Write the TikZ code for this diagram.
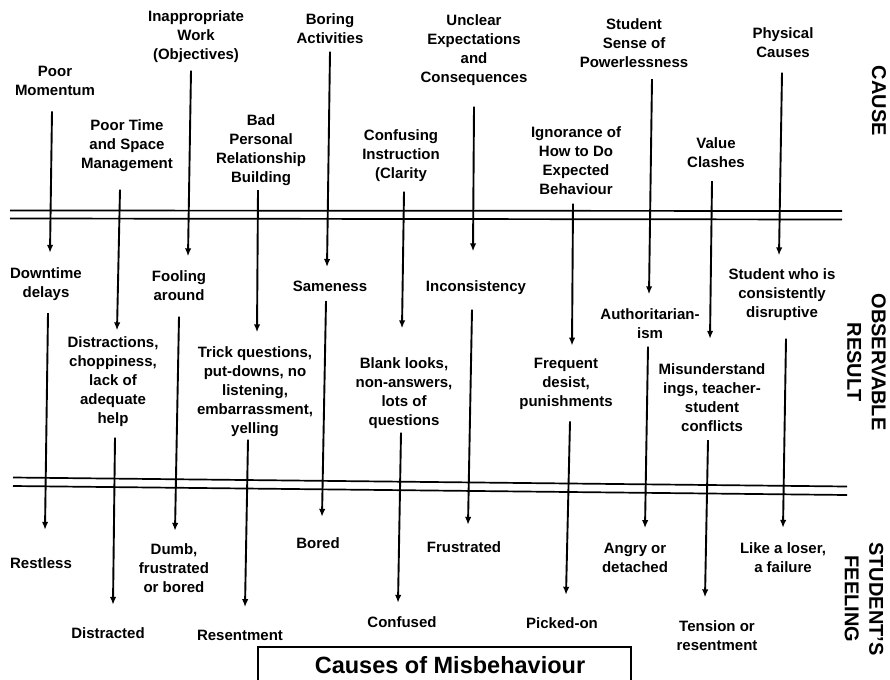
\documentclass[tikz,border=0pt]{standalone}
\usepackage{fontspec}
\setmainfont{Liberation Sans}
\usetikzlibrary{arrows.meta}
\tikzset{
  lbl/.style={font=\bfseries\fontsize{15}{19}\selectfont, align=center, inner sep=0pt},
  side/.style={font=\bfseries\fontsize{20}{24.5}\selectfont, align=center, inner sep=0pt, rotate=-90},
  arr/.style={-{Latex[length=8pt,width=6.5pt]}, line width=1.9pt},
  rule/.style={line width=1.7pt},
  frame/.style={line width=1.2pt},
  titletext/.style={inner sep=0pt, font=\bfseries\fontsize{23.5}{28}\selectfont}
}
\newcommand\conn[6]{\draw[arr] ([xshift=#3pt,yshift=-#5pt]#1.south) -- ([xshift=#4pt,yshift=#6pt]#2.north);}
\begin{document}
\begin{tikzpicture}[x=1pt,y=-1pt]
\clip (0,0) rectangle (890,679);
\fill[white] (0,0) rectangle (890,679);

% double rules
\draw[rule] (10,210.5) -- (842,211);
\draw[rule] (10,218.5) -- (842,219.5);
\draw[rule] (13,477.5) -- (847,486.5);
\draw[rule] (13,486) -- (847,495);

% causes
\node[lbl] (c1) at (55,81) {Poor\\Momentum};
\node[lbl] (c2) at (127,146) {Poor Time\\and Space\\Management};
\node[lbl] (c3) at (196,37) {Inappropriate\\Work\\(Objectives)};
\node[lbl] (c4) at (261,150) {Bad\\Personal\\Relationship\\Building};
\node[lbl] (c5) at (330,29) {Boring\\Activities};
\node[lbl] (c6) at (401,156) {Confusing\\Instruction\\(Clarity};
\node[lbl] (c7) at (474,50.5) {Unclear\\Expectations\\and\\Consequences};
\node[lbl] (c8) at (576,161) {Ignorance of\\How to Do\\Expected\\Behaviour};
\node[lbl] (c9) at (634,43) {Student\\Sense of\\Powerlessness};
\node[lbl] (c10) at (716,152.5) {Value\\Clashes};
\node[lbl] (c11) at (783,43) {Physical\\Causes};

% observable results
\node[lbl] (o1) at (46,284) {Downtime\\delays};
\node[lbl] (o2) at (113,382) {Distractions,\\choppiness,\\lack of\\adequate\\help};
\node[lbl] (o3) at (179,286) {Fooling\\around};
\node[lbl] (o4) at (255,392) {Trick questions,\\put-downs, no\\listening,\\embarrassment,\\yelling};
\node[lbl] (o5) at (330,286) {Sameness};
\node[lbl] (o6) at (404,393.5) {Blank looks,\\non-answers,\\lots of\\questions};
\node[lbl] (o7) at (476,288) {Inconsistency};
\node[lbl] (o8) at (566,384) {Frequent\\desist,\\punishments};
\node[lbl] (o9) at (650,324) {Authoritarian-\\ism};
\node[lbl] (o10) at (712,397.5) {Misunderstand\\ings, teacher-\\student\\conflicts};
\node[lbl] (o11) at (782,295) {Student who is\\consistently\\disruptive};

% feelings
\node[lbl] (f1) at (41,563) {Restless};
\node[lbl] (f2) at (108,633) {Distracted};
\node[lbl] (f3) at (174,568) {Dumb,\\frustrated\\or bored};
\node[lbl] (f4) at (240,635) {Resentment};
\node[lbl] (f5) at (318,543) {Bored};
\node[lbl] (f6) at (402,622) {Confused};
\node[lbl] (f7) at (464,547) {Frustrated};
\node[lbl] (f8) at (562,623) {Picked-on};
\node[lbl] (f9) at (635,557.5) {Angry or\\detached};
\node[lbl] (f10) at (717,636) {Tension or\\resentment};
\node[lbl] (f11) at (783,557.5) {Like a loser,\\a failure};

% connectors
\conn{c1}{o1}{-3}{4}{15.5}{14.5}
\conn{o1}{f1}{2}{4}{12.5}{27.5}
\conn{c2}{o2}{-7}{4}{17.5}{6.5}
\conn{o2}{f2}{2}{5}{10.5}{22.5}
\conn{c3}{o3}{-5}{9}{7.5}{14.5}
\conn{o3}{f3}{0}{1}{15.5}{12.5}
\conn{c4}{o4}{-3}{2}{4.5}{14.5}
\conn{o4}{f4}{-7}{5}{2.5}{22.5}
\conn{c5}{o5}{0}{-3}{7.5}{13.5}
\conn{o5}{f5}{-4}{4}{9.5}{20.5}
\conn{c6}{o6}{3}{-2}{9.5}{29.5}
\conn{o6}{f6}{-3}{-4}{3.5}{13.5}
\conn{c7}{o7}{0}{-3}{20.5}{29.5}
\conn{o7}{f7}{-4}{4}{14.5}{16.5}
\conn{c8}{o8}{-3}{6}{8.5}{12.5}
\conn{o8}{f8}{4}{4}{11.5}{22.5}
\conn{c9}{o9}{18}{-1}{11.5}{14.5}
\conn{o9}{f9}{-2}{10}{7.5}{14.5}
\conn{c10}{o10}{-4}{-2}{13.5}{24.5}
\conn{o10}{f10}{-4}{-12}{8.5}{23.5}
\conn{c11}{o11}{-1}{-3}{14.5}{13.5}
\conn{o11}{f11}{4}{0}{17.5}{14.5}

% side labels
\node[side] (cause) at (879,101) {CAUSE};
\node[side] (obs) at (866.5,362) {OBSERVABLE\\RESULT};
\node[side] (feel) at (864,599) {STUDENT'S\\FEELING};

% title, framed on three sides (the frame runs past the lower edge)
\node[titletext] (title) at (450,665) {Causes of Misbehaviour};
\draw[frame] ([xshift=-192pt,yshift=-25pt]title.center) |- ([yshift=18pt]title.center) -| ([xshift=181pt,yshift=-25pt]title.center);
\end{tikzpicture}
\end{document}
